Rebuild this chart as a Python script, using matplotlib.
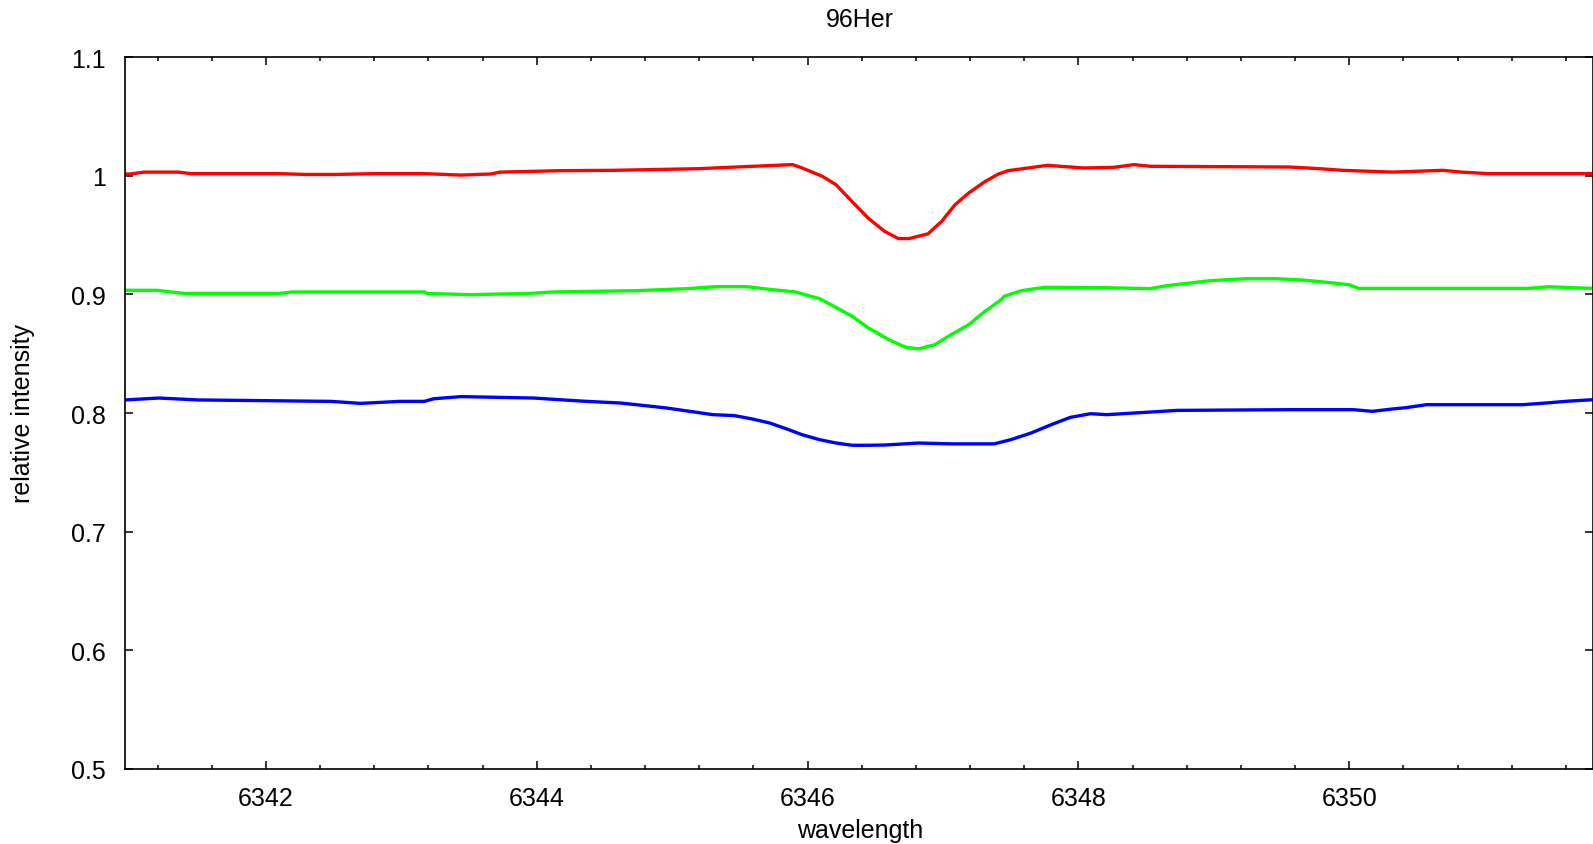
import matplotlib
matplotlib.use('Agg')
import matplotlib.pyplot as plt
from matplotlib.ticker import MultipleLocator, FuncFormatter

# values (wavelength, relative intensity)
red_w = [6340.96, 6341.0, 6341.1, 6341.35, 6341.45, 6342.1, 6342.3, 6342.5, 6342.8,
         6343.17, 6343.44, 6343.66, 6343.73, 6344.17, 6344.57, 6345.2, 6345.47,
         6345.89, 6345.96, 6346.11, 6346.21, 6346.33, 6346.45, 6346.57, 6346.67,
         6346.75, 6346.89, 6346.99, 6347.09, 6347.19, 6347.31, 6347.41, 6347.48,
         6347.63, 6347.77, 6348.04, 6348.26, 6348.41, 6348.53, 6349.56, 6349.78,
         6349.95, 6350.32, 6350.69, 6350.83, 6351.03, 6351.8]
red_v = [1.0014, 1.0014, 1.003, 1.003, 1.0017, 1.0017, 1.001, 1.001, 1.0017,
         1.0017, 1.0005, 1.0014, 1.003, 1.0042, 1.0045, 1.0059, 1.0073,
         1.0093, 1.0065, 0.9994, 0.9924, 0.978, 0.964, 0.953, 0.947,
         0.947, 0.951, 0.9615, 0.9756, 0.9854, 0.995, 1.0014, 1.0042,
         1.0065, 1.0087, 1.0065, 1.007, 1.0093, 1.0079, 1.0073, 1.0059,
         1.0045, 1.003, 1.0045, 1.003, 1.0017, 1.0017]

green_w = [6340.96, 6341.2, 6341.3, 6341.4, 6342.1, 6342.2, 6343.17, 6343.19, 6343.51,
           6343.95, 6344.12, 6344.74, 6345.11, 6345.33, 6345.55, 6345.72, 6345.91,
           6346.09, 6346.21, 6346.33, 6346.45, 6346.6, 6346.72, 6346.82, 6346.94,
           6347.06, 6347.19, 6347.31, 6347.43, 6347.45, 6347.58, 6347.75, 6348.19,
           6348.53, 6348.65, 6348.83, 6348.97, 6349.24, 6349.46, 6349.66, 6349.78,
           6349.88, 6350.0, 6350.07, 6351.32, 6351.47, 6351.8]
green_v = [0.9034, 0.9034, 0.902, 0.9008, 0.9008, 0.902, 0.902, 0.9008, 0.8997,
           0.9008, 0.902, 0.9031, 0.9048, 0.9065, 0.9065, 0.9042, 0.902,
           0.8963, 0.889, 0.8815, 0.8716, 0.8618, 0.8556, 0.854, 0.8576,
           0.866, 0.8744, 0.8857, 0.8955, 0.8983, 0.9031, 0.9059, 0.9056,
           0.9048, 0.9073, 0.9096, 0.9115, 0.9132, 0.9132, 0.912, 0.9107,
           0.9096, 0.9081, 0.905, 0.905, 0.9064, 0.905]

blue_w = [6340.96, 6341.21, 6341.5, 6342.48, 6342.7, 6342.99, 6343.17, 6343.24, 6343.44,
          6343.98, 6344.17, 6344.37, 6344.62, 6344.76, 6344.96, 6345.13, 6345.3,
          6345.46, 6345.59, 6345.72, 6345.86, 6345.96, 6346.09, 6346.21, 6346.33,
          6346.45, 6346.57, 6346.82, 6347.06, 6347.38, 6347.5, 6347.65, 6347.8,
          6347.94, 6348.09, 6348.21, 6348.53, 6348.73, 6349.56, 6350.03, 6350.17,
          6350.32, 6350.42, 6350.57, 6351.03, 6351.28, 6351.45, 6351.62, 6351.8]
blue_v = [0.811, 0.8126, 0.811, 0.8098, 0.8081, 0.8098, 0.8098, 0.812, 0.8138,
          0.8126, 0.8112, 0.8098, 0.8084, 0.8067, 0.8042, 0.8014, 0.7986,
          0.7978, 0.795, 0.7916, 0.786, 0.7817, 0.7775, 0.7747, 0.7728,
          0.7728, 0.773, 0.7747, 0.774, 0.774, 0.7775, 0.7831, 0.7902,
          0.7963, 0.7994, 0.7986, 0.8008, 0.8022, 0.8028, 0.8028, 0.8014,
          0.8034, 0.8045, 0.807, 0.807, 0.807, 0.8084, 0.81, 0.8112]

plt.rcParams['font.family'] = ['Liberation Sans', 'DejaVu Sans']
plt.rcParams['font.size'] = 18

fig = plt.figure(figsize=(15.93, 8.45), dpi=100)
ax = fig.add_axes([125/1593, 1 - 770/845, 1 - 125/1593, (770 - 58)/845])

ax.plot(red_w, red_v, color='#ff0000', lw=2.4)
ax.plot(green_w, green_v, color='#00ff00', lw=2.4)
ax.plot(blue_w, blue_v, color='#0000ff', lw=2.4)

ax.set_xlim(6340.96, 6351.8)
ax.set_ylim(0.5, 1.1)

# gnuplot-style ticks: inward, mirrored
ax.xaxis.set_major_locator(MultipleLocator(2))
ax.xaxis.set_minor_locator(MultipleLocator(0.4))
ax.yaxis.set_major_locator(MultipleLocator(0.1))
ax.yaxis.set_major_formatter(FuncFormatter(lambda v, p: '%g' % round(v, 2)))
ax.xaxis.set_major_formatter(FuncFormatter(lambda v, p: '%d' % round(v)))
ax.tick_params(which='both', direction='in', top=True, right=True, labelsize=18)
ax.tick_params(which='major', length=6, width=1.1)
ax.tick_params(which='minor', length=2.6, width=1.1)
ax.tick_params(axis='x', pad=12)
ax.tick_params(axis='y', pad=14)
for s in ax.spines.values():
    s.set_linewidth(1.2)

fig.text(860/1593, 1 - 20/845, '96Her', ha='center', va='center', fontsize=18)
fig.text(860/1593, 1 - 831/845, 'wavelength', ha='center', va='center', fontsize=18)
fig.text(23/1593, 1 - 414/845, 'relative intensity', ha='center', va='center',
         rotation=90, fontsize=18)

plt.savefig('out.png', dpi=100)
